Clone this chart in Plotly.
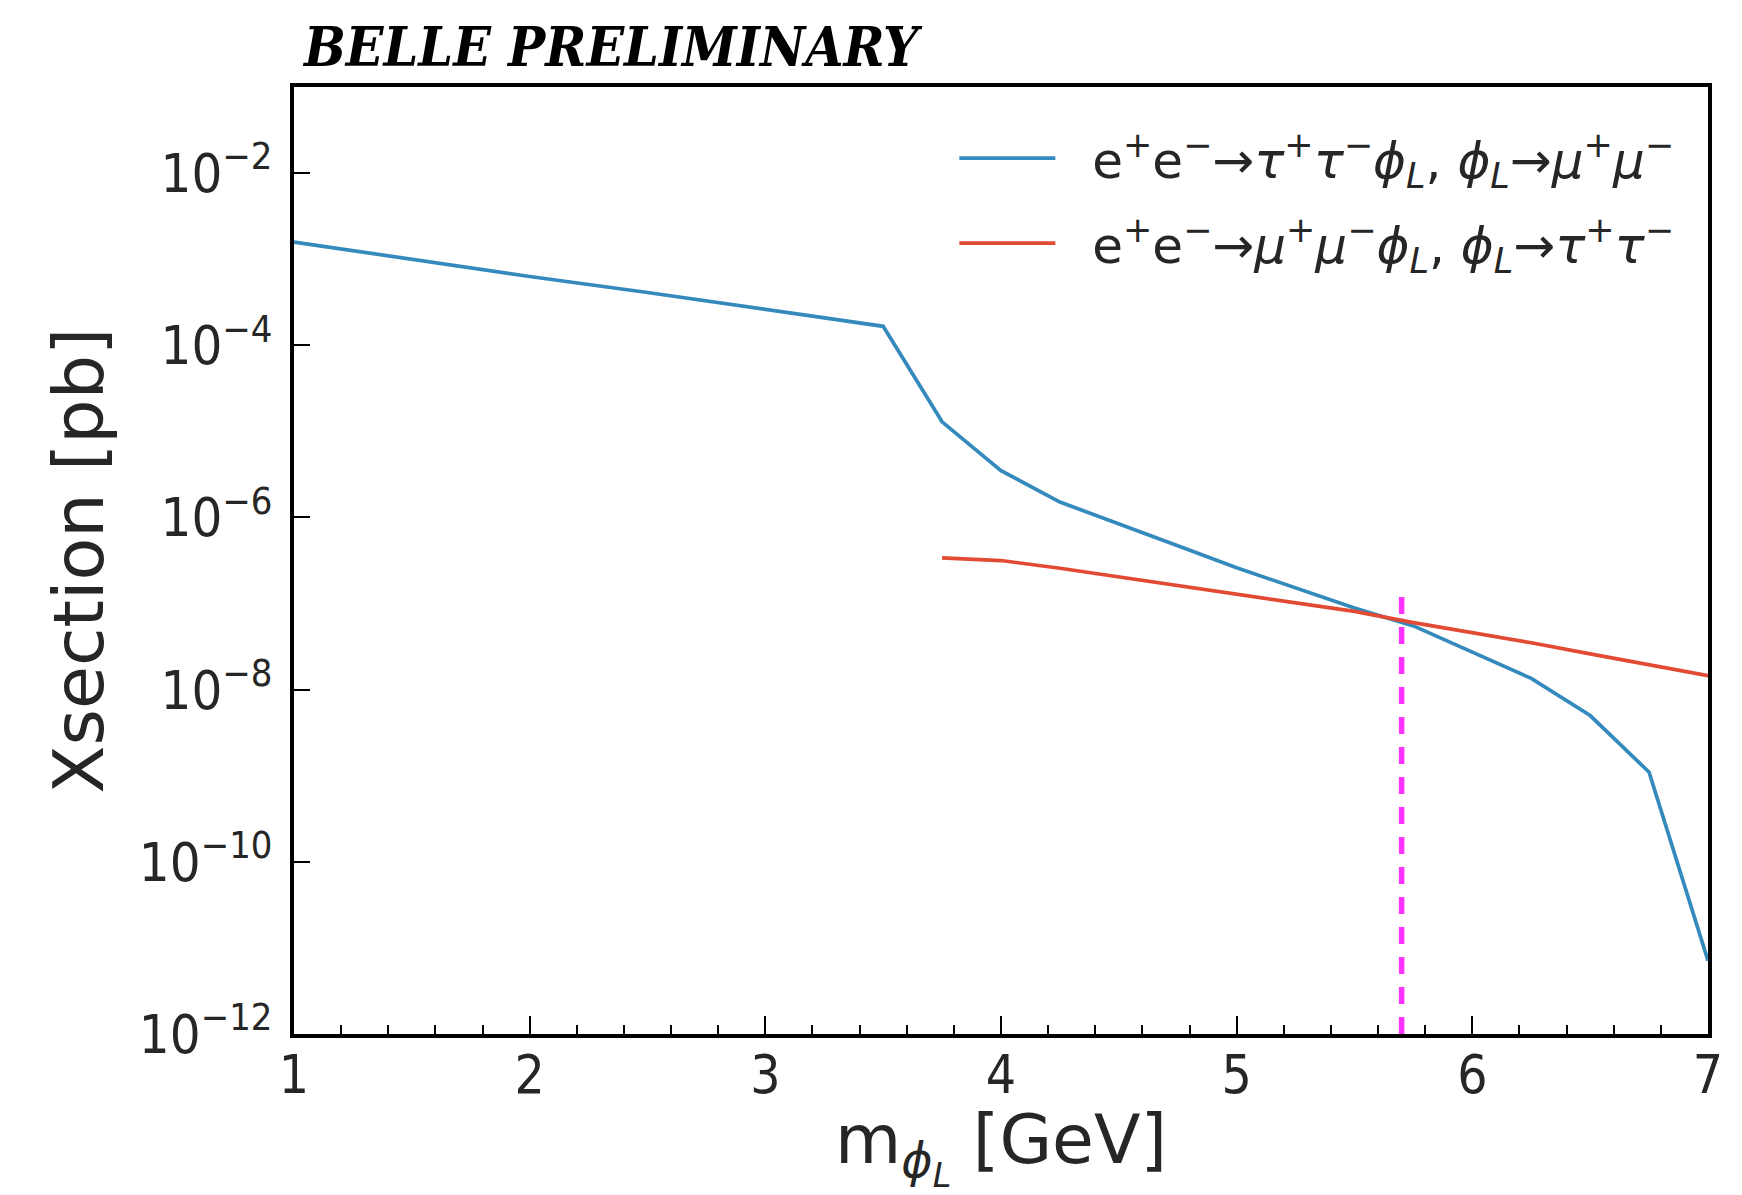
import plotly.graph_objects as go

# ---- data ----
mass_tautau_phi = [1.0, 1.5, 2.0, 2.5, 3.0, 3.5, 3.75, 4.0, 4.25, 4.5, 4.75, 5.0,
                   5.25, 5.5, 5.75, 6.0, 6.25, 6.5, 6.75, 7.0]
xsec_tautau_phi = [1.58e-3, 1.0e-3, 6.3e-4, 4.1e-4, 2.6e-4, 1.66e-4, 1.29e-5, 3.5e-6,
                   1.51e-6, 8.5e-7, 4.7e-7, 2.6e-7, 1.51e-7, 8.9e-8, 5.5e-8, 2.75e-8,
                   1.35e-8, 5.0e-9, 1.1e-9, 7.1e-12]

mass_mumu_phi = [3.75, 4.0, 4.25, 4.5, 4.75, 5.0, 5.25, 5.5, 5.75, 6.0, 6.25, 6.5, 6.75, 7.0]
xsec_mumu_phi = [3.4e-7, 3.16e-7, 2.57e-7, 2.04e-7, 1.62e-7, 1.29e-7, 1.02e-7, 8.1e-8,
                 6.0e-8, 4.6e-8, 3.5e-8, 2.6e-8, 1.95e-8, 1.45e-8]

crossing_mass = [5.7, 5.7]
crossing_xsec = [1e-12, 1.3e-7]

label_tautau = ("&nbsp;&nbsp;e<sup>+</sup>e<sup>−</sup>→<i>τ</i><sup>+</sup><i>τ</i><sup>−</sup>"
                "<i>ϕ</i><sub><i>L</i></sub>, <i>ϕ</i><sub><i>L</i></sub>→<i>μ</i><sup>+</sup><i>μ</i><sup>−</sup>")
label_mumu = ("&nbsp;&nbsp;e<sup>+</sup>e<sup>−</sup>→<i>μ</i><sup>+</sup><i>μ</i><sup>−</sup>"
              "<i>ϕ</i><sub><i>L</i></sub>, <i>ϕ</i><sub><i>L</i></sub>→<i>τ</i><sup>+</sup><i>τ</i><sup>−</sup>")

x_ticks = [1, 2, 3, 4, 5, 6, 7]
y_ticks = [1e-12, 1e-10, 1e-8, 1e-6, 1e-4, 1e-2]
y_ticktext = ["10<sup>−12</sup>", "10<sup>−10</sup>", "10<sup>−8</sup>",
              "10<sup>−6</sup>", "10<sup>−4</sup>", "10<sup>−2</sup>"]

BLUE = "#348ABD"
RED = "#E24A33"
MAGENTA = "#ff33ff"
TICKFONT = "DejaVu Sans Condensed, DejaVu Sans, sans-serif"

fig = go.Figure()
fig.add_trace(go.Scatter(x=mass_tautau_phi, y=xsec_tautau_phi, mode="lines",
                         line=dict(color=BLUE, width=3.7), name=label_tautau,
                         legendgroup="g1"))
fig.add_trace(go.Scatter(x=mass_mumu_phi, y=xsec_mumu_phi, mode="lines",
                         line=dict(color=RED, width=3.7), name=label_mumu,
                         legendgroup="g2"))
fig.add_trace(go.Scatter(x=crossing_mass, y=crossing_xsec, mode="lines",
                         line=dict(color=MAGENTA, width=5.5, dash="17px,13px"),
                         showlegend=False, hoverinfo="skip"))

fig.update_layout(
    width=1742, height=1195,
    margin=dict(l=294, r=34, t=87, b=161, autoexpand=False),
    plot_bgcolor="white", paper_bgcolor="white",
    showlegend=True,
    legend=dict(x=0.467, y=0.966, xanchor="left", yanchor="top",
                bgcolor="rgba(0,0,0,0)", borderwidth=0,
                font=dict(family="DejaVu Sans, sans-serif", size=50, color="#262626"),
                traceorder="grouped", tracegroupgap=17, itemwidth=96),
    annotations=[dict(text="<b><i>BELLE PRELIMINARY</i></b>", xref="paper", yref="paper",
                      x=0, y=1, xanchor="left", yanchor="bottom", xshift=6, yshift=6,
                      showarrow=False,
                      font=dict(family="DejaVu Serif Condensed, DejaVu Serif, serif", size=55, color="black"))],
)

fig.update_xaxes(
    range=[1, 7], tickvals=x_ticks, showgrid=False, zeroline=False,
    showline=True, linecolor="black", linewidth=3.5, mirror=True,
    ticks="inside", ticklen=18, tickwidth=2, tickcolor="black",
    ticklabelstandoff=-8,
    tickfont=dict(family=TICKFONT, size=53, color="#262626"),
    minor=dict(dtick=0.2, tick0=1, ticks="inside", ticklen=9, tickwidth=1.5, tickcolor="black"),
    title=dict(text="m<sub><i>ϕ</i><sub><i>L</i></sub></sub> [GeV]",
               font=dict(family="DejaVu Sans, sans-serif", size=68, color="#262626"), standoff=22),
    automargin=True,
)
fig.update_yaxes(
    type="log", range=[-12, -1], tickvals=y_ticks, ticktext=y_ticktext,
    showgrid=False, zeroline=False,
    showline=True, linecolor="black", linewidth=3.5, mirror=True,
    ticks="inside", ticklen=16, tickwidth=2, tickcolor="black",
    ticklabelstandoff=7,
    tickfont=dict(family=TICKFONT, size=54, color="#262626"),
    title=dict(text="Xsection [pb]",
               font=dict(family="DejaVu Sans, sans-serif", size=70, color="#262626"), standoff=13),
    automargin=False,
)

fig.write_html("out.html")
